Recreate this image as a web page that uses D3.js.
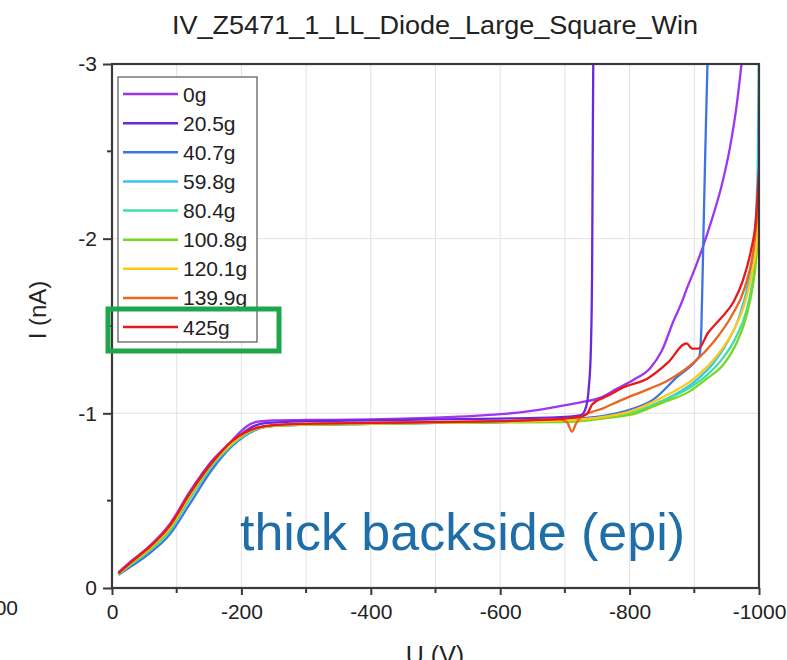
<!DOCTYPE html>
<html>
<head>
<meta charset="utf-8">
<script src="https://cdn.jsdelivr.net/npm/d3@7"></script>
<style>
  html, body { margin: 0; padding: 0; background: #fff; }
  svg { display: block; font-family: "Liberation Sans", Arial, sans-serif; }
</style>
</head>
<body>
<div id="chart"></div>
<script>
// IV curves, U in V and I in nA
const labels = ['0g', '20.5g', '40.7g', '59.8g', '80.4g', '100.8g', '120.1g', '139.9g', '425g'];
const colors = ['#a035ee', '#6a28dc', '#3c74e0', '#36c8e6', '#3ee0a6', '#7ad620', '#ffc818', '#e8661f', '#e8181c'];

const s0g = [[-10,-0.09],[-30,-0.155],[-55,-0.23],[-90,-0.37],[-120,-0.55],[-155,-0.73],[-182,-0.83],[-200,-0.9],[-212,-0.935],[-225,-0.952],[-250,-0.96],[-300,-0.962],[-400,-0.965],[-500,-0.975],[-560,-0.985],[-600,-0.995],[-640,-1.01],[-690,-1.04],[-720,-1.06],[-755,-1.09],[-780,-1.14],[-805,-1.19],[-832,-1.26],[-850,-1.36],[-868,-1.53],[-880,-1.63],[-888,-1.71],[-900,-1.82],[-913,-1.95],[-928,-2.12],[-942,-2.3],[-955,-2.52],[-965,-2.75],[-973,-3.0]];
const s20g = [[-10,-0.085],[-30,-0.15],[-55,-0.225],[-90,-0.36],[-120,-0.545],[-155,-0.725],[-185,-0.835],[-205,-0.895],[-220,-0.928],[-240,-0.945],[-300,-0.955],[-400,-0.96],[-500,-0.965],[-600,-0.97],[-700,-0.98],[-725,-0.99],[-733,-1.04],[-737,-1.15],[-740,-1.35],[-742,-1.8],[-743,-2.5],[-744,-3.1]];
const s40g = [[-10,-0.075],[-30,-0.125],[-55,-0.19],[-90,-0.31],[-120,-0.48],[-155,-0.68],[-185,-0.81],[-205,-0.87],[-225,-0.91],[-250,-0.928],[-300,-0.935],[-400,-0.94],[-500,-0.945],[-600,-0.95],[-700,-0.965],[-760,-0.985],[-800,-1.02],[-837,-1.08],[-874,-1.21],[-902,-1.30],[-908,-1.33],[-911,-1.5],[-914,-2.0],[-917,-2.5],[-921,-3.1]];
const s59g = [[-10,-0.08],[-30,-0.135],[-55,-0.205],[-90,-0.33],[-120,-0.51],[-155,-0.70],[-185,-0.82],[-205,-0.875],[-225,-0.912],[-250,-0.928],[-300,-0.935],[-400,-0.94],[-500,-0.945],[-600,-0.95],[-700,-0.96],[-760,-0.975],[-800,-1.0],[-850,-1.07],[-900,-1.18],[-930,-1.29],[-950,-1.40],[-970,-1.56],[-985,-1.78],[-993,-2.0],[-998,-2.4],[-1000,-3.1]];
const s80g = [[-10,-0.08],[-30,-0.14],[-55,-0.21],[-90,-0.335],[-120,-0.515],[-155,-0.705],[-185,-0.82],[-205,-0.877],[-225,-0.913],[-250,-0.928],[-300,-0.935],[-400,-0.94],[-500,-0.945],[-600,-0.95],[-700,-0.955],[-770,-0.98],[-810,-1.01],[-850,-1.07],[-890,-1.14],[-920,-1.22],[-945,-1.32],[-965,-1.44],[-980,-1.58],[-990,-1.75],[-996,-1.92],[-1000,-2.12]];
const s100g = [[-10,-0.08],[-30,-0.14],[-55,-0.21],[-90,-0.34],[-120,-0.52],[-155,-0.71],[-185,-0.825],[-205,-0.88],[-225,-0.914],[-250,-0.928],[-300,-0.935],[-400,-0.94],[-500,-0.945],[-600,-0.948],[-700,-0.95],[-770,-0.975],[-810,-1.0],[-850,-1.06],[-890,-1.12],[-920,-1.2],[-945,-1.28],[-965,-1.40],[-980,-1.55],[-990,-1.72],[-996,-1.9],[-1000,-2.15]];
const s120g = [[-10,-0.082],[-30,-0.145],[-55,-0.22],[-90,-0.35],[-120,-0.53],[-155,-0.715],[-185,-0.83],[-205,-0.885],[-225,-0.916],[-250,-0.93],[-300,-0.937],[-400,-0.942],[-500,-0.947],[-600,-0.952],[-700,-0.96],[-760,-0.98],[-800,-1.01],[-850,-1.09],[-900,-1.2],[-935,-1.33],[-960,-1.47],[-978,-1.63],[-990,-1.82],[-997,-2.0],[-1000,-2.2]];
const s139g = [[-10,-0.085],[-30,-0.15],[-55,-0.225],[-90,-0.36],[-120,-0.54],[-155,-0.72],[-185,-0.84],[-205,-0.888],[-225,-0.918],[-250,-0.932],[-300,-0.94],[-400,-0.945],[-500,-0.95],[-600,-0.955],[-690,-0.965],[-703,-0.95],[-711,-0.895],[-717,-0.94],[-724,-0.975],[-760,-1.03],[-790,-1.08],[-830,-1.14],[-860,-1.19],[-902,-1.30],[-930,-1.41],[-958,-1.56],[-978,-1.72],[-992,-1.95],[-1000,-2.25]];
const s425g = [[-10,-0.085],[-30,-0.15],[-55,-0.225],[-90,-0.36],[-120,-0.54],[-155,-0.72],[-185,-0.84],[-205,-0.89],[-225,-0.918],[-250,-0.932],[-300,-0.94],[-400,-0.945],[-500,-0.95],[-600,-0.955],[-700,-0.97],[-728,-0.985],[-735,-1.0],[-742,-1.05],[-766,-1.1],[-791,-1.15],[-828,-1.2],[-859,-1.29],[-888,-1.40],[-897,-1.37],[-906,-1.37],[-921,-1.46],[-940,-1.54],[-961,-1.64],[-975,-1.76],[-988,-1.94],[-995,-2.1],[-1000,-2.4]];

const seriesPoints = [s0g, s20g, s40g, s59g, s80g, s100g, s120g, s139g, s425g];

const xMajor = [0, -200, -400, -600, -800, -1000];
const xMinor = [-100, -300, -500, -700, -900];
const xGrid = [-100, -200, -300, -400, -500, -600, -700, -800, -900];
const yMajor = [0, -1, -2, -3];
const yMinor = [-0.5, -1.5, -2.5];
const yGrid = [-1, -2];

const W = 787, H = 660;
const plot = { left: 112, right: 759, top: 64, bottom: 588 };
const FONT = '"Liberation Sans", Arial, sans-serif';

const svg = d3.select('#chart').append('svg')
  .attr('width', W)
  .attr('height', H);

const x = d3.scaleLinear().domain([0, -1000]).range([plot.left, plot.right]);
const y = d3.scaleLinear().domain([0, -3]).range([plot.bottom, plot.top]);

// grid
svg.append('g').selectAll('line')
  .data(xGrid)
  .join('line')
  .attr('x1', (d) => x(d)).attr('x2', (d) => x(d))
  .attr('y1', plot.top).attr('y2', plot.bottom)
  .attr('stroke', '#e2e2e2').attr('stroke-width', 1);

svg.append('g').selectAll('line')
  .data(yGrid)
  .join('line')
  .attr('x1', plot.left).attr('x2', plot.right)
  .attr('y1', (d) => y(d)).attr('y2', (d) => y(d))
  .attr('stroke', '#e2e2e2').attr('stroke-width', 1);

// curves
svg.append('clipPath').attr('id', 'plot-clip')
  .append('rect')
  .attr('x', plot.left).attr('y', plot.top)
  .attr('width', plot.right - plot.left).attr('height', plot.bottom - plot.top);

const line = d3.line()
  .curve(d3.curveMonotoneX)
  .x((d) => x(d[0]))
  .y((d) => y(d[1]));

svg.append('g').attr('clip-path', 'url(#plot-clip)')
  .selectAll('path')
  .data(seriesPoints)
  .join('path')
  .attr('d', line)
  .attr('fill', 'none')
  .attr('stroke', (d, i) => colors[i])
  .attr('stroke-width', 2.3)
  .attr('stroke-linejoin', 'round');

// axes
const axisColor = '#3a3a3a';
const plainNumber = (d) => String(d);

const xAxis = svg.append('g')
  .attr('transform', `translate(0,${plot.bottom})`)
  .call(d3.axisBottom(x).tickValues(xMajor).tickSize(7).tickPadding(6).tickFormat(plainNumber));
xAxis.append('g').selectAll('line')
  .data(xMinor)
  .join('line')
  .attr('x1', (d) => x(d)).attr('x2', (d) => x(d))
  .attr('y1', 0).attr('y2', 5);

const yAxis = svg.append('g')
  .attr('transform', `translate(${plot.left},0)`)
  .call(d3.axisLeft(y).tickValues(yMajor).tickSize(9).tickPadding(6).tickFormat(plainNumber));
yAxis.append('g').selectAll('line')
  .data(yMinor)
  .join('line')
  .attr('x1', 0).attr('x2', -5)
  .attr('y1', (d) => y(d)).attr('y2', (d) => y(d));

[xAxis, yAxis].forEach((g) => {
  g.select('.domain').remove();
  g.selectAll('line').attr('stroke', axisColor).attr('stroke-width', 2);
  g.selectAll('text')
    .attr('fill', '#222')
    .style('font-family', FONT)
    .style('font-size', '21px');
});
xAxis.selectAll('.tick text').attr('dy', '0.85em');

// frame
svg.append('rect')
  .attr('x', plot.left).attr('y', plot.top)
  .attr('width', plot.right - plot.left).attr('height', plot.bottom - plot.top)
  .attr('fill', 'none')
  .attr('stroke', axisColor)
  .attr('stroke-width', 2.2);

// titles
svg.append('text')
  .attr('x', 435).attr('y', 34)
  .attr('text-anchor', 'middle')
  .attr('fill', '#222')
  .style('font-size', '26px')
  .attr('textLength', 526)
  .attr('lengthAdjust', 'spacingAndGlyphs')
  .text('IV_Z5471_1_LL_Diode_Large_Square_Win');

svg.append('text')
  .attr('transform', 'translate(46,310) rotate(-90)')
  .attr('text-anchor', 'middle')
  .attr('fill', '#222')
  .style('font-size', '24px')
  .text('I (nA)');

svg.append('text')
  .attr('x', 435).attr('y', 664)
  .attr('text-anchor', 'middle')
  .attr('fill', '#222')
  .style('font-size', '25px')
  .text('U (V)');

// cut-off tick label of the neighbouring chart at the left edge
svg.append('text')
  .attr('x', 18).attr('y', 615)
  .attr('text-anchor', 'end')
  .attr('fill', '#222')
  .style('font-size', '21px')
  .text('-1000');

// legend
const legend = svg.append('g');
legend.append('rect')
  .attr('x', 118).attr('y', 77)
  .attr('width', 139).attr('height', 265)
  .attr('fill', '#fff')
  .attr('stroke', '#555')
  .attr('stroke-width', 1.2);

const rowY = d3.scaleLinear().domain([0, labels.length - 1]).range([94, 327]);
const rows = legend.selectAll('g.row')
  .data(labels)
  .join('g')
  .attr('class', 'row')
  .attr('transform', (d, i) => `translate(0,${rowY(i)})`);
rows.append('line')
  .attr('x1', 123).attr('x2', 178)
  .attr('stroke', (d, i) => colors[i])
  .attr('stroke-width', 2.5);
rows.append('text')
  .attr('x', 183).attr('y', 0)
  .attr('dy', '0.36em')
  .attr('fill', '#222')
  .style('font-size', '21px')
  .text((d) => d);

// green highlight around 425g
svg.append('rect')
  .attr('x', 108).attr('y', 309)
  .attr('width', 171).attr('height', 42)
  .attr('fill', 'none')
  .attr('stroke', '#1fa64c')
  .attr('stroke-width', 5);

// annotation
svg.append('text')
  .attr('x', 240).attr('y', 550)
  .attr('fill', '#1f6ea8')
  .style('font-size', '52px')
  .text('thick backside (epi)');
</script>
</body>
</html>
